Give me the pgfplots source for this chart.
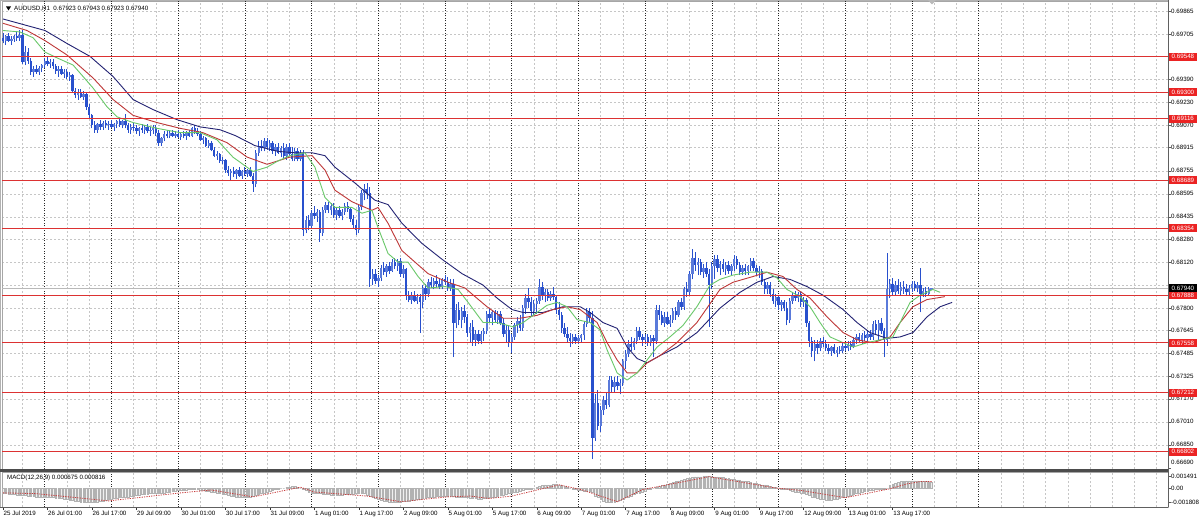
\documentclass[border=0pt]{standalone}
\usepackage{pgfplots}
\pgfplotsset{compat=1.18}
\usepackage{pgfplotstable}
\usepackage{fontspec}
\setmainfont{Liberation Sans}
\definecolor{barblue}{RGB}{40,80,205}
\definecolor{magreen}{RGB}{105,200,105}
\definecolor{mared}{RGB}{190,55,55}
\definecolor{manavy}{RGB}{35,35,115}
\definecolor{hlred}{RGB}{220,50,50}
\definecolor{labred}{RGB}{235,35,35}
\definecolor{sigred}{RGB}{200,60,60}
\newcommand{\lf}{\fontsize{6.2}{7}\selectfont}

\pgfplotstableread{
O H L C
0.6968 0.6971 0.6964 0.6966
0.6966 0.6970 0.6963 0.6969
0.6969 0.6971 0.6965 0.6966
0.6966 0.6969 0.6963 0.6967
0.6967 0.6970 0.6965 0.6969
0.6969 0.6972 0.6966 0.6968
0.6968 0.6973 0.6966 0.6970
0.6970 0.6973 0.6950 0.6951
0.6951 0.6962 0.6949 0.6958
0.6958 0.6961 0.6950 0.6952
0.6952 0.6954 0.6942 0.6944
0.6944 0.6948 0.6941 0.6946
0.6946 0.6949 0.6943 0.6944
0.6944 0.6948 0.6942 0.6947
0.6947 0.6950 0.6944 0.6949
0.6949 0.6954 0.6947 0.6952
0.6952 0.6955 0.6948 0.6950
0.6950 0.6953 0.6947 0.6951
0.6951 0.6953 0.6946 0.6948
0.6948 0.6950 0.6943 0.6945
0.6945 0.6948 0.6941 0.6946
0.6946 0.6948 0.6942 0.6943
0.6943 0.6946 0.6940 0.6944
0.6944 0.6946 0.6939 0.6941
0.6941 0.6944 0.6938 0.6942
0.6942 0.6943 0.6930 0.6931
0.6931 0.6933 0.6926 0.6928
0.6928 0.6932 0.6925 0.6930
0.6930 0.6932 0.6926 0.6927
0.6927 0.6931 0.6925 0.6929
0.6929 0.6930 0.6918 0.6920
0.6920 0.6922 0.6912 0.6914
0.6914 0.6915 0.6905 0.6907
0.6907 0.6910 0.6902 0.6904
0.6904 0.6909 0.6902 0.6908
0.6908 0.6911 0.6904 0.6906
0.6906 0.6910 0.6904 0.6909
0.6909 0.6911 0.6905 0.6907
0.6907 0.6910 0.6904 0.6908
0.6908 0.6911 0.6905 0.6906
0.6906 0.6909 0.6903 0.6908
0.6908 0.6911 0.6905 0.6910
0.6910 0.6912 0.6906 0.6907
0.6907 0.6911 0.6905 0.6910
0.6910 0.6915 0.6905 0.6907
0.6907 0.6909 0.6902 0.6904
0.6904 0.6908 0.6901 0.6906
0.6906 0.6909 0.6903 0.6905
0.6905 0.6907 0.6901 0.6903
0.6903 0.6906 0.6900 0.6905
0.6905 0.6908 0.6902 0.6904
0.6904 0.6907 0.6901 0.6906
0.6906 0.6908 0.6902 0.6903
0.6903 0.6906 0.6900 0.6904
0.6904 0.6907 0.6901 0.6905
0.6905 0.6907 0.6900 0.6902
0.6902 0.6904 0.6893 0.6895
0.6895 0.6899 0.6893 0.6898
0.6898 0.6903 0.6896 0.6901
0.6901 0.6904 0.6898 0.6900
0.6900 0.6903 0.6898 0.6902
0.6902 0.6904 0.6899 0.6900
0.6900 0.6903 0.6898 0.6901
0.6901 0.6904 0.6898 0.6899
0.6899 0.6902 0.6897 0.6901
0.6901 0.6903 0.6898 0.6900
0.6900 0.6903 0.6897 0.6902
0.6902 0.6904 0.6899 0.6900
0.6900 0.6906 0.6899 0.6905
0.6905 0.6907 0.6901 0.6903
0.6903 0.6905 0.6900 0.6901
0.6901 0.6903 0.6896 0.6897
0.6897 0.6900 0.6894 0.6898
0.6898 0.6899 0.6892 0.6893
0.6893 0.6897 0.6891 0.6895
0.6895 0.6896 0.6889 0.6890
0.6890 0.6892 0.6885 0.6886
0.6886 0.6889 0.6883 0.6887
0.6887 0.6888 0.6881 0.6882
0.6882 0.6885 0.6880 0.6883
0.6883 0.6884 0.6874 0.6876
0.6876 0.6879 0.6872 0.6874
0.6874 0.6877 0.6869 0.6875
0.6875 0.6878 0.6871 0.6873
0.6873 0.6877 0.6870 0.6876
0.6876 0.6878 0.6871 0.6872
0.6872 0.6876 0.6870 0.6875
0.6875 0.6878 0.6872 0.6873
0.6873 0.6877 0.6871 0.6876
0.6876 0.6878 0.6871 0.6872
0.6872 0.6874 0.6861 0.6866
0.6866 0.6890 0.6864 0.6888
0.6888 0.6896 0.6886 0.6893
0.6893 0.6897 0.6889 0.6891
0.6891 0.6898 0.6889 0.6896
0.6896 0.6898 0.6890 0.6892
0.6892 0.6897 0.6889 0.6895
0.6895 0.6896 0.6887 0.6889
0.6889 0.6894 0.6886 0.6892
0.6892 0.6895 0.6887 0.6888
0.6888 0.6893 0.6885 0.6891
0.6891 0.6895 0.6884 0.6886
0.6886 0.6894 0.6883 0.6892
0.6892 0.6895 0.6886 0.6887
0.6887 0.6892 0.6882 0.6884
0.6884 0.6891 0.6882 0.6889
0.6889 0.6891 0.6882 0.6884
0.6884 0.6890 0.6882 0.6888
0.6888 0.6890 0.6830 0.6834
0.6834 0.6844 0.6832 0.6841
0.6841 0.6845 0.6834 0.6837
0.6837 0.6848 0.6835 0.6846
0.6846 0.6851 0.6842 0.6844
0.6844 0.6849 0.6840 0.6847
0.6847 0.6848 0.6826 0.6832
0.6832 0.6850 0.6830 0.6848
0.6848 0.6854 0.6846 0.6852
0.6852 0.6854 0.6846 0.6848
0.6848 0.6853 0.6845 0.6851
0.6851 0.6853 0.6843 0.6845
0.6845 0.6850 0.6841 0.6848
0.6848 0.6851 0.6843 0.6844
0.6844 0.6849 0.6841 0.6847
0.6847 0.6853 0.6845 0.6851
0.6851 0.6854 0.6847 0.6849
0.6849 0.6850 0.6840 0.6842
0.6842 0.6845 0.6836 0.6838
0.6838 0.6841 0.6831 0.6834
0.6834 0.6852 0.6832 0.6850
0.6850 0.6862 0.6848 0.6860
0.6860 0.6866 0.6855 0.6863
0.6863 0.6867 0.6856 0.6860
0.6860 0.6864 0.6795 0.6800
0.6800 0.6807 0.6796 0.6804
0.6804 0.6807 0.6797 0.6799
0.6799 0.6803 0.6795 0.6801
0.6801 0.6810 0.6799 0.6808
0.6808 0.6812 0.6803 0.6805
0.6805 0.6811 0.6802 0.6809
0.6809 0.6812 0.6804 0.6806
0.6806 0.6814 0.6805 0.6812
0.6812 0.6815 0.6807 0.6809
0.6809 0.6814 0.6806 0.6813
0.6813 0.6815 0.6802 0.6804
0.6804 0.6810 0.6801 0.6807
0.6807 0.6808 0.6786 0.6789
0.6789 0.6792 0.6784 0.6786
0.6786 0.6791 0.6783 0.6789
0.6789 0.6792 0.6784 0.6785
0.6785 0.6790 0.6783 0.6788
0.6788 0.6790 0.6763 0.6784
0.6784 0.6796 0.6780 0.6794
0.6794 0.6797 0.6786 0.6790
0.6790 0.6800 0.6788 0.6798
0.6798 0.6802 0.6794 0.6796
0.6796 0.6801 0.6793 0.6799
0.6799 0.6803 0.6795 0.6797
0.6797 0.6800 0.6793 0.6795
0.6795 0.6801 0.6793 0.6800
0.6800 0.6803 0.6796 0.6798
0.6798 0.6802 0.6792 0.6794
0.6794 0.6800 0.6792 0.6797
0.6797 0.6800 0.6746 0.6770
0.6770 0.6783 0.6766 0.6779
0.6779 0.6784 0.6768 0.6772
0.6772 0.6781 0.6766 0.6778
0.6778 0.6782 0.6770 0.6774
0.6774 0.6776 0.6760 0.6763
0.6763 0.6770 0.6756 0.6767
0.6767 0.6772 0.6754 0.6758
0.6758 0.6765 0.6754 0.6762
0.6762 0.6765 0.6755 0.6757
0.6757 0.6764 0.6755 0.6762
0.6762 0.6766 0.6757 0.6764
0.6764 0.6778 0.6762 0.6776
0.6776 0.6780 0.6770 0.6773
0.6773 0.6779 0.6768 0.6777
0.6777 0.6779 0.6770 0.6772
0.6772 0.6778 0.6769 0.6776
0.6776 0.6778 0.6768 0.6770
0.6770 0.6773 0.6760 0.6762
0.6762 0.6768 0.6756 0.6765
0.6765 0.6768 0.6753 0.6756
0.6756 0.6762 0.6749 0.6760
0.6760 0.6770 0.6758 0.6768
0.6768 0.6774 0.6763 0.6771
0.6771 0.6775 0.6764 0.6766
0.6766 0.6782 0.6764 0.6780
0.6780 0.6790 0.6776 0.6787
0.6787 0.6794 0.6780 0.6784
0.6784 0.6788 0.6774 0.6778
0.6778 0.6786 0.6775 0.6783
0.6783 0.6787 0.6776 0.6785
0.6785 0.6800 0.6783 0.6795
0.6795 0.6798 0.6786 0.6789
0.6789 0.6793 0.6784 0.6791
0.6791 0.6793 0.6785 0.6787
0.6787 0.6792 0.6785 0.6790
0.6790 0.6795 0.6786 0.6788
0.6788 0.6789 0.6776 0.6779
0.6779 0.6784 0.6772 0.6775
0.6775 0.6777 0.6763 0.6766
0.6766 0.6770 0.6760 0.6762
0.6762 0.6767 0.6756 0.6759
0.6759 0.6763 0.6753 0.6757
0.6757 0.6762 0.6755 0.6760
0.6760 0.6762 0.6755 0.6757
0.6757 0.6761 0.6755 0.6759
0.6759 0.6762 0.6756 0.6761
0.6761 0.6771 0.6758 0.6769
0.6769 0.6780 0.6767 0.6777
0.6777 0.6780 0.6770 0.6773
0.6773 0.6778 0.6675 0.6690
0.6690 0.6720 0.6688 0.6714
0.6714 0.6723 0.6695 0.6698
0.6698 0.6712 0.6694 0.6709
0.6709 0.6719 0.6706 0.6716
0.6716 0.6722 0.6710 0.6713
0.6713 0.6733 0.6711 0.6730
0.6730 0.6733 0.6722 0.6725
0.6725 0.6732 0.6722 0.6729
0.6729 0.6733 0.6723 0.6726
0.6726 0.6731 0.6720 0.6728
0.6728 0.6745 0.6726 0.6743
0.6743 0.6751 0.6738 0.6748
0.6748 0.6758 0.6746 0.6755
0.6755 0.6760 0.6750 0.6753
0.6753 0.6759 0.6751 0.6757
0.6757 0.6767 0.6755 0.6764
0.6764 0.6767 0.6758 0.6760
0.6760 0.6762 0.6754 0.6758
0.6758 0.6762 0.6755 0.6760
0.6760 0.6762 0.6754 0.6756
0.6756 0.6761 0.6754 0.6759
0.6759 0.6761 0.6746 0.6757
0.6757 0.6782 0.6755 0.6779
0.6779 0.6782 0.6772 0.6775
0.6775 0.6778 0.6768 0.6770
0.6770 0.6777 0.6767 0.6774
0.6774 0.6777 0.6768 0.6769
0.6769 0.6775 0.6767 0.6772
0.6772 0.6780 0.6770 0.6778
0.6778 0.6781 0.6772 0.6775
0.6775 0.6786 0.6774 0.6784
0.6784 0.6787 0.6779 0.6781
0.6781 0.6795 0.6779 0.6793
0.6793 0.6798 0.6788 0.6791
0.6791 0.6806 0.6789 0.6804
0.6804 0.6821 0.6800 0.6815
0.6815 0.6819 0.6806 0.6810
0.6810 0.6815 0.6803 0.6812
0.6812 0.6814 0.6803 0.6805
0.6805 0.6811 0.6801 0.6808
0.6808 0.6812 0.6802 0.6804
0.6804 0.6807 0.6767 0.6796
0.6796 0.6812 0.6793 0.6809
0.6809 0.6817 0.6800 0.6814
0.6814 0.6817 0.6805 0.6808
0.6808 0.6813 0.6803 0.6811
0.6811 0.6814 0.6805 0.6807
0.6807 0.6812 0.6803 0.6810
0.6810 0.6813 0.6804 0.6806
0.6806 0.6811 0.6803 0.6809
0.6809 0.6817 0.6806 0.6814
0.6814 0.6816 0.6807 0.6810
0.6810 0.6812 0.6803 0.6805
0.6805 0.6810 0.6803 0.6808
0.6808 0.6811 0.6803 0.6806
0.6806 0.6810 0.6803 0.6809
0.6809 0.6815 0.6806 0.6813
0.6813 0.6815 0.6806 0.6808
0.6808 0.6810 0.6803 0.6805
0.6805 0.6809 0.6801 0.6806
0.6806 0.6807 0.6796 0.6798
0.6798 0.6800 0.6790 0.6793
0.6793 0.6798 0.6790 0.6796
0.6796 0.6798 0.6788 0.6790
0.6790 0.6793 0.6783 0.6785
0.6785 0.6790 0.6781 0.6788
0.6788 0.6789 0.6779 0.6782
0.6782 0.6786 0.6778 0.6784
0.6784 0.6786 0.6778 0.6780
0.6780 0.6784 0.6768 0.6772
0.6772 0.6787 0.6770 0.6785
0.6785 0.6791 0.6783 0.6789
0.6789 0.6792 0.6785 0.6787
0.6787 0.6791 0.6784 0.6790
0.6790 0.6791 0.6781 0.6784
0.6784 0.6788 0.6781 0.6786
0.6786 0.6787 0.6767 0.6770
0.6770 0.6771 0.6753 0.6757
0.6757 0.6760 0.6746 0.6750
0.6750 0.6758 0.6743 0.6755
0.6755 0.6758 0.6748 0.6752
0.6752 0.6759 0.6750 0.6757
0.6757 0.6760 0.6753 0.6755
0.6755 0.6758 0.6750 0.6752
0.6752 0.6755 0.6748 0.6750
0.6750 0.6754 0.6747 0.6753
0.6753 0.6755 0.6748 0.6749
0.6749 0.6753 0.6746 0.6751
0.6751 0.6754 0.6748 0.6750
0.6750 0.6756 0.6749 0.6754
0.6754 0.6756 0.6750 0.6752
0.6752 0.6757 0.6750 0.6755
0.6755 0.6757 0.6751 0.6753
0.6753 0.6760 0.6752 0.6758
0.6758 0.6762 0.6755 0.6760
0.6760 0.6763 0.6756 0.6758
0.6758 0.6763 0.6755 0.6761
0.6761 0.6764 0.6757 0.6759
0.6759 0.6764 0.6757 0.6762
0.6762 0.6765 0.6758 0.6760
0.6760 0.6771 0.6758 0.6769
0.6769 0.6772 0.6762 0.6765
0.6765 0.6772 0.6758 0.6770
0.6770 0.6773 0.6762 0.6764
0.6764 0.6766 0.6746 0.6758
0.6758 0.6818 0.6754 0.6793
0.6793 0.6800 0.6787 0.6797
0.6797 0.6801 0.6789 0.6791
0.6791 0.6799 0.6789 0.6796
0.6796 0.6800 0.6790 0.6792
0.6792 0.6798 0.6789 0.6795
0.6795 0.6799 0.6790 0.6793
0.6793 0.6797 0.6789 0.6791
0.6791 0.6796 0.6789 0.6794
0.6794 0.6799 0.6791 0.6797
0.6797 0.6799 0.6792 0.6794
0.6794 0.6798 0.6791 0.6796
0.6796 0.6808 0.6777 0.6790
0.6790 0.6794 0.6788 0.6792
0.6792 0.6795 0.6788 0.6790
0.6790 0.6795 0.6789 0.6793
0.67923 0.67943 0.67923 0.67940
}\bars

\pgfplotstableread{
x y
0 0.6981
15.1 0.6973
23.0 0.6964
31.3 0.6955
39.6 0.6941
46.8 0.6925
54.0 0.6918
62.6 0.6911
70.9 0.6906
78.1 0.6904
83.5 0.6900
90.6 0.6893
98.9 0.6889
105.0 0.6888
111.2 0.6888
115.8 0.6886
119.4 0.6878
126.6 0.6867
133.8 0.6855
138.5 0.6852
143.5 0.6839
150.7 0.6825
157.9 0.6814
165.1 0.6804
172.7 0.6796
177.7 0.6787
183.1 0.6779
187.1 0.6777
194.2 0.6777
201.4 0.6781
207.6 0.6781
211.2 0.6777
215.8 0.6770
220.9 0.6766
224.5 0.6753
228.1 0.6745
231.7 0.6742
236.3 0.6747
242.4 0.6753
249.6 0.6763
257.9 0.6780
265.1 0.6791
271.2 0.6798
277.0 0.6802
283.1 0.6800
289.2 0.6795
295.0 0.6789
302.2 0.6779
307.2 0.6770
311.9 0.6763
318.0 0.6759
322.7 0.6760
327.3 0.6763
332.4 0.6774
337.1 0.6781
341.4 0.6784
}\maslow

\pgfplotstableread{
x y
0 0.6978
8.6 0.6973
15.1 0.6966
23.0 0.6956
32.4 0.6940
39.6 0.6925
46.8 0.6914
55.4 0.6909
63.7 0.6905
71.9 0.6902
80.6 0.6895
87.8 0.6885
95.0 0.6880
103.2 0.6885
111.2 0.6886
115.8 0.6876
119.4 0.6862
125.5 0.6854
132.7 0.6848
134.9 0.6850
138.5 0.6839
143.5 0.6820
148.2 0.6812
152.9 0.6804
160.1 0.6798
166.2 0.6794
169.8 0.6788
174.1 0.6781
179.9 0.6773
186.0 0.6773
192.1 0.6775
197.8 0.6779
202.9 0.6781
207.6 0.6779
213.7 0.6770
217.3 0.6756
220.9 0.6744
224.5 0.6735
228.1 0.6735
231.7 0.6742
236.3 0.6747
242.4 0.6756
249.6 0.6770
257.9 0.6793
262.6 0.6798
269.8 0.6802
274.8 0.6805
280.6 0.6802
285.6 0.6793
290.3 0.6787
296.4 0.6774
302.2 0.6763
307.2 0.6758
313.0 0.6756
319.1 0.6760
322.7 0.6770
327.3 0.6781
332.4 0.6786
338.8 0.6788
}\mamid

\pgfplotstableread{
x y
0 0.6973
6.1 0.6972
10.8 0.6968
15.1 0.6958
19.4 0.6954
25.2 0.6949
32.4 0.6933
37.4 0.6920
41.0 0.6913
46.8 0.6909
55.4 0.6905
63.7 0.6902
70.9 0.6902
77.0 0.6897
82.7 0.6885
89.9 0.6875
95.0 0.6878
98.6 0.6882
103.2 0.6886
108.6 0.6888
112.2 0.6878
115.8 0.6857
119.4 0.6850
125.5 0.6850
129.1 0.6846
132.7 0.6848
134.9 0.6836
138.5 0.6818
142.1 0.6812
145.7 0.6812
149.3 0.6802
152.9 0.6794
159.0 0.6795
163.7 0.6793
167.3 0.6784
172.7 0.6770
177.7 0.6770
183.5 0.6767
187.1 0.6770
192.1 0.6777
195.7 0.6782
199.3 0.6784
202.9 0.6781
206.5 0.6772
211.2 0.6770
214.7 0.6765
217.3 0.6751
220.9 0.6735
224.5 0.6730
228.1 0.6735
231.7 0.6744
235.3 0.6753
239.9 0.6760
244.6 0.6768
249.6 0.6781
254.3 0.6796
257.9 0.6800
262.6 0.6803
268.7 0.6805
274.8 0.6805
278.4 0.6801
282.0 0.6793
286.7 0.6788
290.3 0.6781
293.9 0.6770
297.5 0.6760
302.2 0.6756
305.8 0.6753
310.8 0.6756
315.5 0.6758
320.1 0.6760
322.7 0.6770
326.3 0.6784
329.9 0.6789
334.5 0.6793
337.1 0.6791
}\mafast

\pgfplotstableread{
m
-0.0007
-0.0007
-0.0008
-0.0008
-0.0008
-0.0009
-0.0009
-0.0009
-0.0009
-0.0010
-0.0010
-0.0010
-0.0011
-0.0011
-0.0011
-0.0011
-0.0012
-0.0012
-0.0012
-0.0013
-0.0013
-0.0013
-0.0014
-0.0014
-0.0015
-0.0015
-0.0016
-0.0016
-0.0017
-0.0017
-0.0017
-0.0018
-0.0018
-0.0018
-0.0017
-0.0016
-0.0016
-0.0015
-0.0014
-0.0014
-0.0013
-0.0013
-0.0012
-0.0012
-0.0011
-0.0011
-0.0010
-0.0010
-0.0009
-0.0009
-0.0008
-0.0008
-0.0008
-0.0007
-0.0007
-0.0007
-0.0006
-0.0006
-0.0006
-0.0005
-0.0005
-0.0004
-0.0004
-0.0003
-0.0003
-0.0003
-0.0003
-0.0002
-0.0002
-0.0002
-0.0002
-0.0003
-0.0003
-0.0004
-0.0004
-0.0005
-0.0005
-0.0006
-0.0007
-0.0008
-0.0008
-0.0009
-0.0010
-0.0010
-0.0011
-0.0011
-0.0012
-0.0012
-0.0012
-0.0011
-0.0010
-0.0009
-0.0008
-0.0007
-0.0006
-0.0005
-0.0004
-0.0003
-0.0002
-0.0001
0.0000
0.0000
0.0001
0.0001
0.0002
0.0002
0.0001
0.0000
-0.0001
-0.0003
-0.0005
-0.0006
-0.0007
-0.0007
-0.0007
-0.0008
-0.0008
-0.0008
-0.0009
-0.0009
-0.0009
-0.0009
-0.0009
-0.0008
-0.0008
-0.0008
-0.0008
-0.0007
-0.0007
-0.0007
-0.0007
-0.0009
-0.0010
-0.0012
-0.0013
-0.0014
-0.0015
-0.0016
-0.0016
-0.0017
-0.0017
-0.0017
-0.0017
-0.0017
-0.0016
-0.0016
-0.0016
-0.0015
-0.0015
-0.0014
-0.0014
-0.0013
-0.0013
-0.0012
-0.0012
-0.0011
-0.0010
-0.0010
-0.0010
-0.0010
-0.0010
-0.0010
-0.0010
-0.0011
-0.0011
-0.0011
-0.0012
-0.0012
-0.0013
-0.0013
-0.0013
-0.0014
-0.0014
-0.0013
-0.0013
-0.0012
-0.0012
-0.0011
-0.0010
-0.0009
-0.0009
-0.0008
-0.0007
-0.0006
-0.0005
-0.0005
-0.0004
-0.0003
-0.0002
-0.0001
-0.0001
0.0000
0.0001
0.0002
0.0003
0.0004
0.0004
0.0004
0.0005
0.0005
0.0004
0.0003
0.0002
0.0001
0.0000
-0.0001
-0.0002
-0.0003
-0.0003
-0.0004
-0.0004
-0.0004
-0.0005
-0.0010
-0.0012
-0.0014
-0.0016
-0.0017
-0.0018
-0.0018
-0.0017
-0.0016
-0.0015
-0.0014
-0.0012
-0.0011
-0.0010
-0.0008
-0.0007
-0.0006
-0.0005
-0.0004
-0.0002
-0.0001
0.0000
0.0001
0.0002
0.0003
0.0004
0.0005
0.0006
0.0007
0.0008
0.0009
0.0010
0.0011
0.0012
0.0012
0.0013
0.0014
0.0014
0.0014
0.0015
0.0015
0.0015
0.0014
0.0014
0.0014
0.0013
0.0013
0.0012
0.0012
0.0011
0.0011
0.0010
0.0010
0.0009
0.0008
0.0008
0.0007
0.0006
0.0006
0.0005
0.0004
0.0004
0.0003
0.0002
0.0001
0.0001
0.0000
-0.0001
-0.0002
-0.0002
-0.0003
-0.0004
-0.0005
-0.0005
-0.0006
-0.0007
-0.0008
-0.0009
-0.0011
-0.0012
-0.0013
-0.0014
-0.0014
-0.0015
-0.0015
-0.0015
-0.0014
-0.0014
-0.0013
-0.0012
-0.0011
-0.0010
-0.0009
-0.0008
-0.0007
-0.0006
-0.0005
-0.0004
-0.0004
-0.0003
-0.0003
-0.0002
-0.0002
-0.0001
-0.0001
0.0000
0.0004
0.0005
0.0006
0.0007
0.0008
0.0008
0.0009
0.0009
0.0009
0.0009
0.0009
0.0008
0.0008
0.0008
0.0007
0.0007
}\macd

\pgfplotstableread{
x y
0 -0.0006
12 -0.0007
38 -0.0016
64 -0.0006
75 -0.00025
90 -0.0011
107 0.0001
112 -0.0005
131 -0.0010
143 -0.0017
160 -0.0011
168 -0.0010
175 -0.0013
183 -0.0010
200 0.0004
208 -0.0002
221 -0.0017
230 -0.0002
254 0.0014
278 0.0000
287 -0.0003
303 -0.0012
319 -0.0001
325 0.0005
330 0.0008
334 0.0008
}\signal

\begin{document}
\begin{tikzpicture}[x=1pt,y=1pt]
\fill[white] (0pt,0pt) rectangle (1200pt,523pt);
\begin{axis}[
  at={(2pt,54pt)}, anchor=south west, scale only axis,
  width=1166pt, height=468pt,
  xmin=-0.36, xmax=419.06, ymin=0.66682, ymax=0.69935,
  axis line style={draw=gray!70, line width=0.6pt},
  scaled ticks=false,
  xtick={7,23,31,47,55,71,79,95,103,119,127,143,151,167,175,191,199,215,223,239,247,263,271,287,295,311,319,335,343,359,367,375,383,391,399,407,415},
  xticklabels={}, xtick style={draw=none},
  xmajorgrids, ymajorgrids,
  major grid style={gray!45, line width=0.5pt, dash pattern=on 2pt off 2pt},
  extra x ticks={15,39,63,87,111,135,159,183,207,231,255,279,303,327,351},
  extra x tick labels={},
  extra x tick style={xmajorgrids=true, ymajorgrids=false, major grid style={black!85, line width=0.6pt, dash pattern=on 1pt off 1.5pt}},
  ytick={0.66850,0.67010,0.67170,0.67325,0.67485,0.67645,0.67800,0.67960,0.68120,0.68280,0.68435,0.68595,0.68755,0.68915,0.69070,0.69230,0.69390,0.69548,0.69705,0.69865},
  yticklabels={0.66850,0.67010,0.67170,0.67325,0.67485,0.67645,0.67800,,0.68120,0.68280,0.68435,0.68595,0.68755,0.68915,0.69070,0.69230,0.69390,,0.69705,0.69865},
  extra y ticks={0.66690}, extra y tick labels={0.66690},
  extra y tick style={yticklabel style={yshift=5pt}, ymajorgrids=false, xmajorgrids=false},
  ytick pos=right, yticklabel pos=right,
  tick align=outside, major tick length=3pt,
  ytick style={draw=gray!70!black, line width=0.5pt},
  yticklabel style={font=\lf, anchor=west, inner sep=0pt, xshift=0pt},
  colormap={updown}{rgb255(0pt)=(40,80,205) rgb255(1pt)=(90,122,218)},
  point meta min=0, point meta max=1,
]
\addplot[draw=gray!55, line width=0.6pt] coordinates {(-1,0.67940) (420,0.67940)};
\addplot[draw=barblue, line width=1pt, -, quiver={u=0, v=\thisrow{H}-\thisrow{L}}] table[x expr=\coordindex, y=L] {\bars};
\addplot[line width=2.4pt, -, point meta={\thisrow{C}>\thisrow{O}}, quiver={u=0, v=\thisrow{C}-\thisrow{O}, colored=mapped color}] table[x expr=\coordindex, y=O] {\bars};
\addplot[draw=manavy, line width=0.9pt, line join=round] table[x=x, y=y] {\maslow};
\addplot[draw=mared, line width=0.9pt, line join=round] table[x=x, y=y] {\mamid};
\addplot[draw=magreen, line width=0.9pt, line join=round] table[x=x, y=y] {\mafast};
\addplot[draw=hlred, line width=1pt] coordinates {(-1,0.69548) (420,0.69548)};
\addplot[draw=hlred, line width=1pt] coordinates {(-1,0.69300) (420,0.69300)};
\addplot[draw=hlred, line width=1pt] coordinates {(-1,0.69116) (420,0.69116)};
\addplot[draw=hlred, line width=1pt] coordinates {(-1,0.68689) (420,0.68689)};
\addplot[draw=hlred, line width=1pt] coordinates {(-1,0.68354) (420,0.68354)};
\addplot[draw=hlred, line width=1pt] coordinates {(-1,0.67888) (420,0.67888)};
\addplot[draw=hlred, line width=1pt] coordinates {(-1,0.67558) (420,0.67558)};
\addplot[draw=hlred, line width=1pt] coordinates {(-1,0.67212) (420,0.67212)};
\addplot[draw=hlred, line width=1pt] coordinates {(-1,0.66802) (420,0.66802)};
\coordinate (r1) at (axis cs:419.06,0.69548);
\coordinate (r2) at (axis cs:419.06,0.69300);
\coordinate (r3) at (axis cs:419.06,0.69116);
\coordinate (r4) at (axis cs:419.06,0.68689);
\coordinate (r5) at (axis cs:419.06,0.68354);
\coordinate (r6) at (axis cs:419.06,0.67888);
\coordinate (r7) at (axis cs:419.06,0.67558);
\coordinate (r8) at (axis cs:419.06,0.67212);
\coordinate (r9) at (axis cs:419.06,0.66802);
\coordinate (bk) at (axis cs:419.06,0.67940);
\end{axis}

\begin{axis}[
  at={(2pt,16pt)}, anchor=south west, scale only axis,
  width=1166pt, height=35pt,
  xmin=-0.36, xmax=419.06, ymin=-0.002356, ymax=0.001984,
  axis line style={draw=gray!70, line width=0.6pt},
  scaled ticks=false,
  xtick={0,16,...,320},
  xticklabels={25 Jul 2019,26 Jul 01:00,26 Jul 17:00,29 Jul 09:00,30 Jul 01:00,30 Jul 17:00,31 Jul 09:00,1 Aug 01:00,1 Aug 17:00,2 Aug 09:00,5 Aug 01:00,5 Aug 17:00,6 Aug 09:00,7 Aug 01:00,7 Aug 17:00,8 Aug 09:00,9 Aug 01:00,9 Aug 17:00,12 Aug 09:00,13 Aug 01:00,13 Aug 17:00},
  xtick pos=bottom, tick align=outside, major tick length=3pt,
  xtick style={draw=black!80, line width=0.5pt},
  xticklabel style={font=\lf, anchor=north west, inner sep=0pt, xshift=0.5pt, yshift=-1pt},
  xmajorgrids=false,
  minor xtick={7,23,31,47,55,71,79,95,103,119,127,143,151,167,175,191,199,215,223,239,247,263,271,287,295,311,319,335,343,359,367,375,383,391,399,407,415},
  xminorgrids, minor tick length=0pt,
  minor grid style={gray!45, line width=0.5pt, dash pattern=on 2pt off 2pt},
  extra x ticks={15,39,63,87,111,135,159,183,207,231,255,279,303,327,351},
  extra x tick labels={},
  extra x tick style={xmajorgrids=true, major tick length=0pt, major grid style={black!85, line width=0.6pt, dash pattern=on 1pt off 1.5pt}},
  ytick={-0.001808,0,0.001491},
  yticklabels={-0.001808,0.00,0.001491},
  ytick pos=right, yticklabel pos=right,
  ytick style={draw=gray!70!black, line width=0.5pt},
  yticklabel style={font=\lf, anchor=west, inner sep=0pt},
]
\addplot[ybar, bar width=1.7pt, fill=gray!12, draw=gray!60, line width=0.4pt] table[x expr=\coordindex, y=m] {\macd};
\addplot[draw=sigred, line width=0.8pt, dash pattern=on 1.2pt off 1.2pt] table[x=x, y=y] {\signal};
\end{axis}

% window frame and separators
\draw[gray!60, line width=1pt] (0.5pt,16pt) -- (0.5pt,523pt);
\draw[gray!60, line width=1pt] (0pt,522.5pt) -- (1168pt,522.5pt);
\fill[black!70] (0pt,51pt) rectangle (1168.5pt,54pt);
\draw[gray!75!black, line width=0.8pt] (1168pt,16pt) -- (1168pt,523pt);
\draw[gray!75!black, line width=0.8pt] (0pt,16pt) -- (1168pt,16pt);

% price labels
\tikzset{labbox/.style={fill=labred, text=white, font=\lf, inner sep=0pt, minimum height=8pt, minimum width=28.5pt, anchor=west, xshift=0.5pt}}
\node[labbox] at (r1) {0.69548};
\node[labbox] at (r2) {0.69300};
\node[labbox] at (r3) {0.69116};
\node[labbox] at (r4) {0.68689};
\node[labbox] at (r5) {0.68354};
\node[labbox] at (r6) {0.67888};
\node[labbox] at (r7) {0.67558};
\node[labbox] at (r8) {0.67212};
\node[labbox] at (r9) {0.66802};
\node[labbox, fill=black] at (bk) {0.67940};

% titles
\fill[black] (6pt,516.5pt) -- (11pt,516.5pt) -- (8.5pt,512.5pt) -- cycle;
\node[anchor=west, inner sep=0pt, font=\lf] at (14pt,514.5pt) {AUDUSD,H1\ \ 0.67923 0.67943 0.67923 0.67940};
\node[anchor=west, inner sep=0pt, font=\lf] at (7pt,45pt) {MACD(12,26,9) 0.000675 0.000816};
\fill[gray!55] (928pt,523pt) -- (936pt,523pt) -- (932pt,518.5pt) -- cycle;

\pgfresetboundingbox
\path[use as bounding box] (0pt,0pt) rectangle (1200pt,523pt);
\end{tikzpicture}
\end{document}
